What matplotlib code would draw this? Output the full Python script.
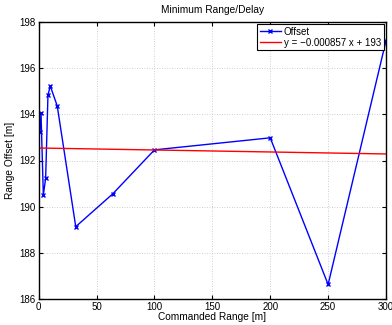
import numpy as np
import matplotlib
matplotlib.use("Agg")
import matplotlib.pyplot as plt

# Data
commanded_range = [1, 2, 4, 6, 8, 10, 16, 32, 64, 100, 200, 250, 300]
range_offset = [193.24, 194.04, 190.51, 191.23, 194.83, 195.22, 194.36,
                189.14, 190.56, 192.46, 192.98, 186.64, 197.18]
fit_slope = -0.000857
fit_intercept = 192.54
fit_label = "y = \u22120.000857 x + 193"
x_ticks = [0, 50, 100, 150, 200, 250, 300]
y_ticks = [186, 188, 190, 192, 194, 196, 198]

plt.rcParams['font.family'] = ['Liberation Sans', 'DejaVu Sans']

fig = plt.figure(figsize=(3.92, 3.25), dpi=100)
ax = fig.add_axes([38.7 / 392, 1 - 299.3 / 325, (386 - 38.7) / 392, (299.3 - 21.7) / 325])

x = np.array(commanded_range)
ax.plot(x, range_offset, color='#0000ff', lw=1.0, marker='x', ms=3.5, mew=1.0, label='Offset')
ax.plot(x, fit_slope * x + fit_intercept, color='#ff0000', lw=1.0, label=fit_label)

ax.set_xlim(0, 300)
ax.set_ylim(186, 198)
ax.set_xticks(x_ticks)
ax.set_yticks(y_ticks)
ax.tick_params(direction='in', top=True, right=True, labelsize=7, length=3, width=0.8, pad=2)
ax.grid(True, linestyle=(0, (1, 2)), color='#c0c0c0', lw=0.6)
for s in ax.spines.values():
    s.set_linewidth(1.0)

ax.set_title('Minimum Range/Delay', fontsize=7.3, pad=6)
ax.set_xlabel('Commanded Range [m]', fontsize=7.3, labelpad=0)
ax.set_ylabel('Range Offset [m]', fontsize=7.3, labelpad=3)

leg = ax.legend(loc='upper right', fontsize=7, frameon=True, fancybox=False,
                edgecolor='black', framealpha=1, borderpad=0.25, handlelength=2.2,
                handletextpad=0.3, labelspacing=0.1, borderaxespad=0.25)
leg.get_frame().set_linewidth(0.8)

fig.savefig('out.png', dpi=100)
